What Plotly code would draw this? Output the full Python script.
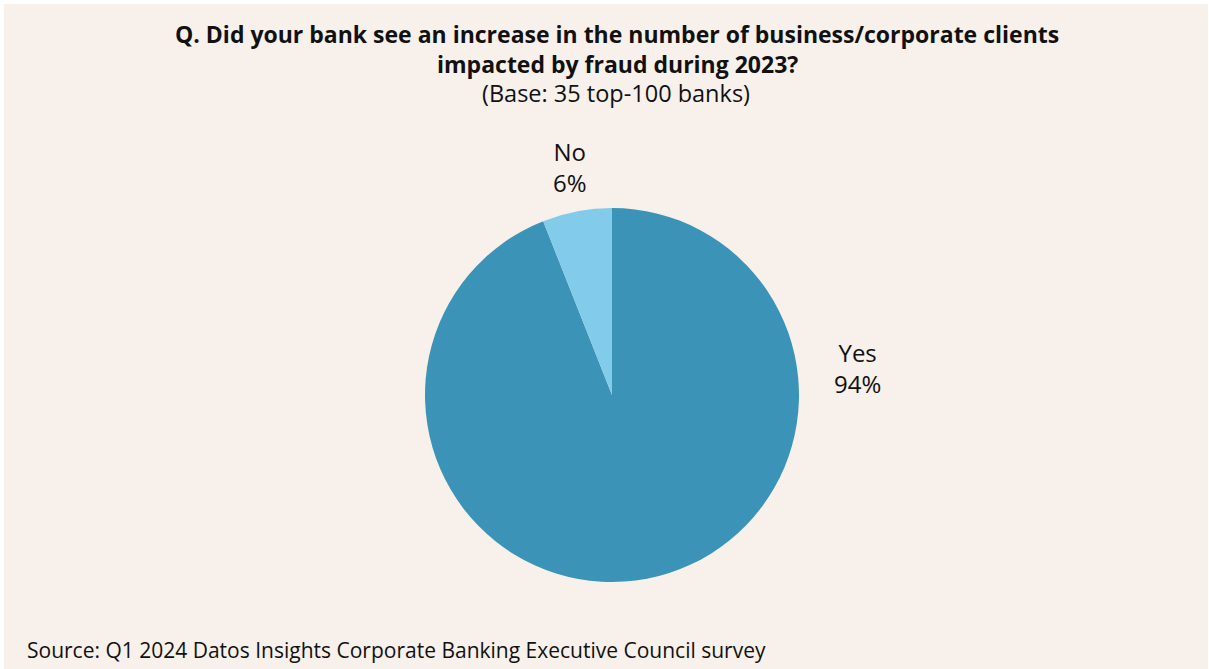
import plotly.graph_objects as go

# Survey answers and their shares (percent of respondents)
answers = ["Yes", "No"]
shares = [94, 6]
slice_colors = ["#3B94B8", "#82CBEB"]

title_lines = [
    "Q. Did your bank see an increase in the number of business/corporate clients",
    "impacted by fraud during 2023?",
]
subtitle = "(Base: 35 top-100 banks)"
source_note = "Source: Q1 2024 Datos Insights Corporate Banking Executive Council survey"

W, H = 1209, 669
FONT = "Open Sans"
BG = "#F8F0EA"
INK = "#111111"


def px_x(x):
    return x / W


def px_y(y):
    return 1 - y / H


fig = go.Figure()

cx, cy, r = 612, 395, 187
fig.add_trace(
    go.Pie(
        labels=answers,
        values=shares,
        sort=False,
        direction="clockwise",
        rotation=0,
        marker=dict(colors=slice_colors, line=dict(width=0)),
        textinfo="none",
        hoverinfo="label+percent",
        showlegend=False,
        domain=dict(
            x=[px_x(cx - r), px_x(cx + r)],
            y=[px_y(cy + r), px_y(cy - r)],
        ),
    )
)

annotations = []
# Title block
for text, ypx in ((title_lines[0], 34), (title_lines[1], 64)):
    annotations.append(dict(
        x=px_x(617), y=px_y(ypx), xref="paper", yref="paper",
        text="<b>" + text + "</b>", showarrow=False,
        font=dict(family=FONT, size=23, color=INK), xanchor="center", yanchor="middle",
    ))
annotations.append(dict(
    x=px_x(616), y=px_y(93), xref="paper", yref="paper",
    text=subtitle, showarrow=False,
    font=dict(family=FONT, size=23.5, color=INK), xanchor="center", yanchor="middle",
))

# Slice labels (name and share)
label_pos = {"Yes": (857, 368), "No": (570, 167)}
for name, val in zip(answers, shares):
    lx, ly = label_pos[name]
    annotations.append(dict(
        x=px_x(lx), y=px_y(ly), xref="paper", yref="paper",
        text=f"{name}<br>{val}%", showarrow=False,
        font=dict(family=FONT, size=24, color=INK),
        xanchor="center", yanchor="middle", align="center",
    ))

# Source note
annotations.append(dict(
    x=px_x(25), y=px_y(650), xref="paper", yref="paper",
    text=source_note, showarrow=False,
    font=dict(family=FONT, size=21, color=INK),
    xanchor="left", yanchor="middle",
))

fig.update_layout(
    width=W,
    height=H,
    margin=dict(l=0, r=0, t=0, b=0),
    paper_bgcolor="white",
    plot_bgcolor="white",
    annotations=annotations,
    shapes=[dict(
        type="rect", xref="paper", yref="paper",
        x0=px_x(4), x1=px_x(1208), y0=0, y1=px_y(4),
        fillcolor=BG, line=dict(width=0), layer="below",
    )],
)

fig.write_html("out.html")
